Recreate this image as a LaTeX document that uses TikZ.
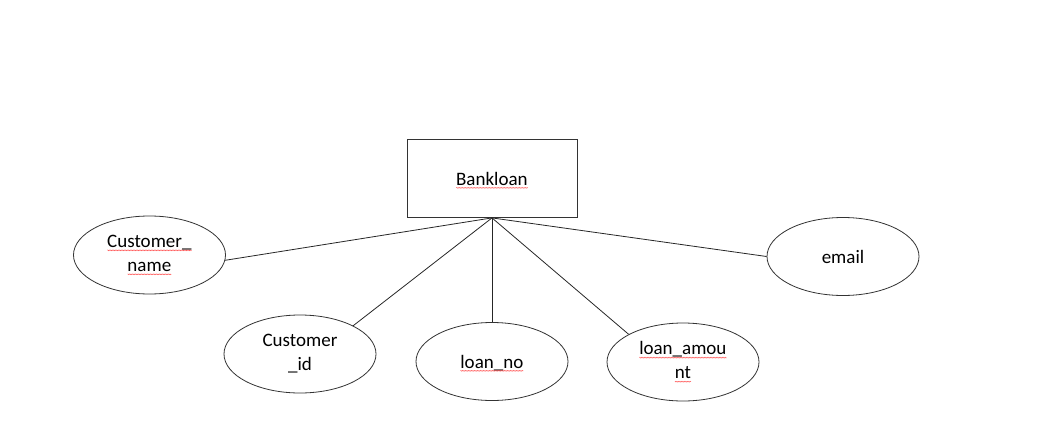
\documentclass[tikz,border=0pt]{standalone}
\usepackage{fontspec}
\setmainfont{Carlito}
\usetikzlibrary{shapes.geometric,decorations.pathmorphing}
\newlength\sqlen
\newcommand\sqw[1]{\settowidth\sqlen{#1}#1\hspace{-\sqlen}\raisebox{-3.5pt}{\tikz\draw[red!75, line width=0.3pt, decorate, decoration={zigzag, amplitude=0.5pt, segment length=1.5pt}] (0,0) -- (\sqlen,0);}}
\newcommand\lowtext[1]{\raisebox{-6.5pt}[0pt][0pt]{#1}}
\tikzset{
  ent/.style={draw=black!80, line width=0.8pt, rectangle, minimum width=170pt, minimum height=78pt, inner sep=0pt, font=\fontsize{19}{24}\selectfont},
  attr/.style={draw=black!80, line width=0.8pt, ellipse, minimum width=152pt, minimum height=78pt, inner sep=0pt, align=center, font=\fontsize{19}{24}\selectfont},
  conn/.style={draw=black!85, line width=0.8pt}
}
\begin{document}
\begin{tikzpicture}[x=1pt,y=-1pt]
\useasboundingbox (0,0) rectangle (1037,447);
\node[ent] (bank) at (492,178.5) {\lowtext{\sqw{Bankloan}}};
\node[attr] (cn) at (149.5,255) {\sqw{Customer\_}\\\sqw{name}};
\node[attr] (ci) at (300,354) {Customer\\\_id};
\node[attr] (ln) at (492,361.5) {\lowtext{\sqw{loan\_no}}};
\node[attr] (la) at (683,362) {\sqw{loan\_amou}\\\sqw{nt}};
\node[attr] (em) at (843,256.5) {\lowtext{email}};
\draw[conn] (bank.south) -- (cn.-4);
\draw[conn] (bank.south) -- (ci.28);
\draw[conn] (bank.south) -- (ln.north);
\draw[conn] (bank.south) -- (la.153);
\draw[conn] (bank.south) -- (em.west);
\end{tikzpicture}
\end{document}
